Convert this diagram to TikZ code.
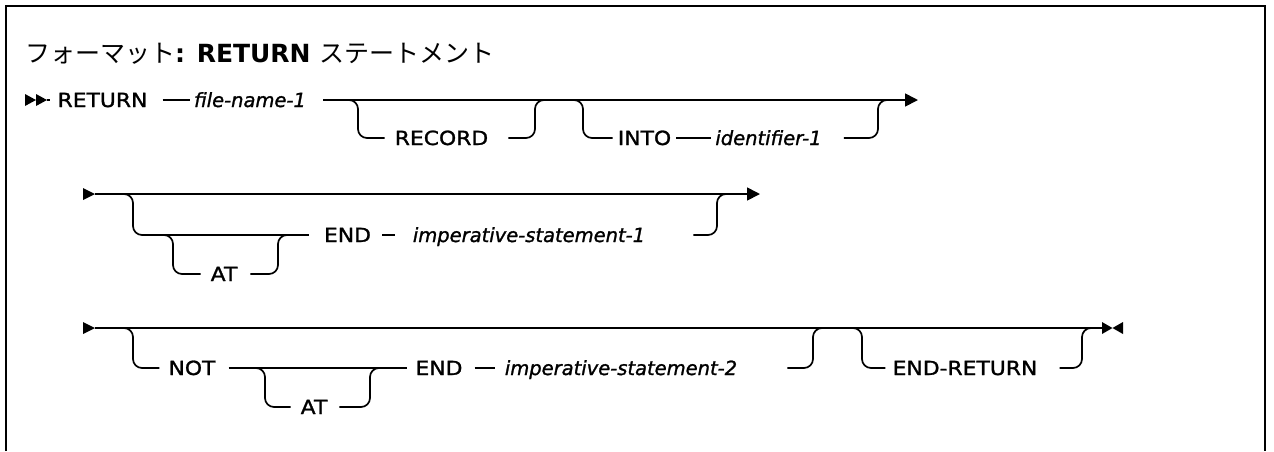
\documentclass[tikz,border=0pt]{standalone}
\usepackage{fontspec}
\setmainfont{DejaVu Sans}[UprightFeatures={FakeStretch=1.12,FakeBold=1.3},ItalicFeatures={FakeBold=1.3}]
\newfontfamily\jpfont{Noto Sans CJK JP}
\newfontfamily\ttlfont{DejaVu Sans Bold}
\usetikzlibrary{arrows.meta}
\begin{document}
\begin{tikzpicture}[x=1pt,y=-1pt,
  line/.style={line width=1.7pt},
  rr/.style={line width=1.7pt, rounded corners=9pt},
  kw/.style={font=\fontsize{19.5}{22}\selectfont, inner sep=0pt, text height=14pt, text depth=0pt, anchor=center},
  var/.style={kw, font=\fontsize{19.5}{22}\selectfont\itshape},
  tip/.style={-{Triangle[length=13pt,width=13pt]}},
  marker/.style={fill=black}
]
\useasboundingbox (0,0) rectangle (1274,451);
\draw[line width=2.4pt] (6,451) -- (6,6) -- (1265,6) -- (1265,451);

% title
\node[anchor=base west, inner sep=0pt] (title) at (25,62)
  {\fontsize{25}{29}\selectfont{\jpfont フォーマット}{\ttlfont : RETURN} {\jpfont ステートメント}};

% ---------- row 1 ----------
\coordinate (s1) at (47,100);
\coordinate (e1) at (918,100);
\fill[marker] (25,94) -- (36,100) -- (25,106) -- cycle;
\fill[marker] (36,94) -- (47,100) -- (36,106) -- cycle;
\node[kw]  (ret)  at (102.5,100) {RETURN};
\node[var] (fn1)  at (250,100)   {file-name-1};
\node[kw]  (rec)  at (441.5,138) {RECORD};
\node[kw]  (into) at (644.5,138) {INTO};
\node[var] (id1)  at (768.5,138) {identifier-1};
\draw[line] (s1) -- ([xshift=-7pt]ret.west);
\draw[line] ([xshift=15pt]ret.east) -- ([xshift=-4pt]fn1.west);
\draw[line,tip] ([xshift=17pt]fn1.east) -- (e1);
\draw[rr] (340,100) -- (358,100) -- (358,138) -- ([xshift=-10pt]rec.west);
\draw[rr] ([xshift=20pt]rec.east) -- (535,138) -- (535,100) -- (550,100);
\draw[rr] (570,100) -- (583,100) -- (583,138) -- ([xshift=-5pt]into.west);
\draw[line] ([xshift=5pt]into.east) -- ([xshift=-4pt]id1.west);
\draw[rr] ([xshift=22pt]id1.east) -- (878,138) -- (878,100) -- (890,100);

% ---------- row 2 ----------
\coordinate (s2) at (95,194);
\coordinate (e2) at (760,194);
\fill[marker] (83,188) -- (95,194) -- (83,200) -- cycle;
\node[kw]  (at1)  at (224,274)   {AT};
\node[kw]  (end1) at (347.5,235) {END};
\node[var] (is1)  at (529,235)   {imperative-statement-1};
\draw[line,tip] (s2) -- (e2);
\draw[rr] (120,194) -- (133,194) -- (133,235) -- ([xshift=-15pt]end1.west);
\draw[rr] (160,235) -- (173,235) -- (173,274) -- ([xshift=-10pt]at1.west);
\draw[rr] ([xshift=13pt]at1.east) -- (278,274) -- (278,235) -- (290,235);
\draw[line] ([xshift=11pt]end1.east) -- ([xshift=-18pt]is1.west);
\draw[rr] ([xshift=48pt]is1.east) -- (717,235) -- (717,194) -- (730,194);

% ---------- row 3 ----------
\coordinate (s3) at (95,328);
\coordinate (e3) at (1102,328);
\fill[marker] (83,322) -- (95,328) -- (83,334) -- cycle;
\node[kw]  (not)  at (192,368) {NOT};
\node[kw]  (at2)  at (314,407) {AT};
\node[kw]  (end2) at (439,368) {END};
\node[var] (is2)  at (621,368) {imperative-statement-2};
\node[kw]  (er)   at (965,368) {END-RETURN};
\draw[line] (s3) -- (e3);
\fill[marker] (1102,322) -- (1112.5,328) -- (1102,334) -- cycle;
\fill[marker] (1123,322) -- (1112.5,328) -- (1123,334) -- cycle;
\draw[rr] (120,328) -- (133,328) -- (133,368) -- ([xshift=-9pt]not.west);
\draw[line] ([xshift=13pt]not.east) -- ([xshift=-8pt]end2.west);
\draw[rr] (252,368) -- (265,368) -- (265,407) -- ([xshift=-10pt]at2.west);
\draw[rr] ([xshift=12pt]at2.east) -- (370,407) -- (370,368) -- (382,368);
\draw[line] ([xshift=12pt]end2.east) -- ([xshift=-10pt]is2.west);
\draw[rr] ([xshift=50pt]is2.east) -- (813,368) -- (813,328) -- (826,328);
\draw[rr] (849,328) -- (862,328) -- (862,368) -- ([xshift=-7pt]er.west);
\draw[rr] ([xshift=22pt]er.east) -- (1082,368) -- (1082,328) -- (1095,328);
\end{tikzpicture}
\end{document}
